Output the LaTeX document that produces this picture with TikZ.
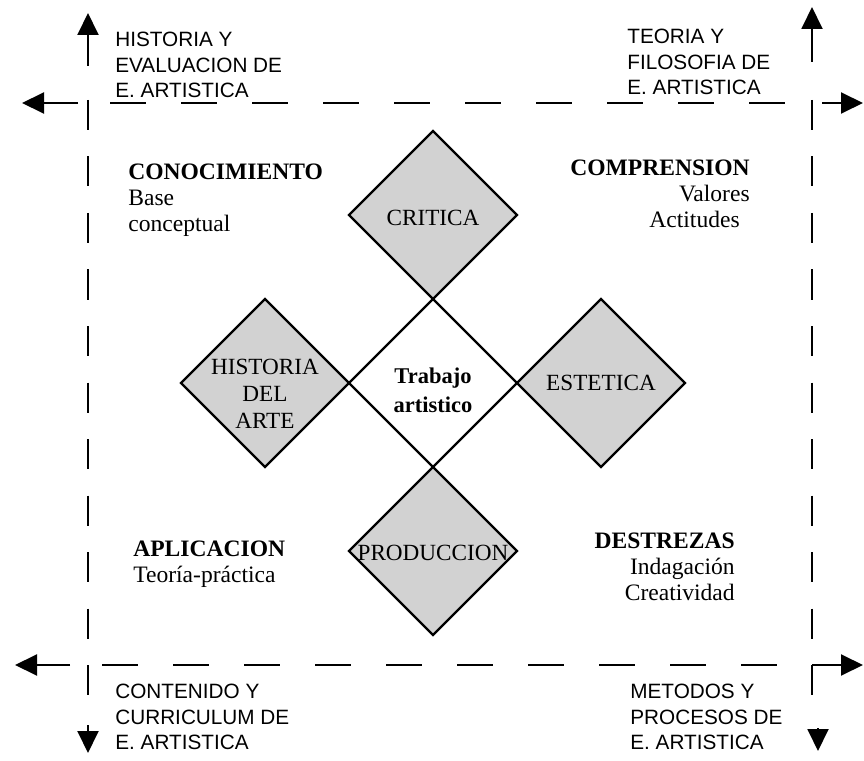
\documentclass[tikz,border=0pt]{standalone}
\usepackage{fontspec}
\setmainfont{Liberation Serif}
\newfontfamily\palo{Liberation Sans}
\usetikzlibrary{shapes.geometric,positioning,arrows.meta}

\tikzset{
  area/.style={diamond, draw, line width=1.3pt, fill=gray!35,
    minimum width=3.36cm, minimum height=3.36cm, inner sep=0pt, outer sep=0pt},
  texto/.style={align=center, inner sep=0pt, font=\fontsize{13.2}{15.4}\selectfont},
  eje/.style={line width=1.1pt, -{Triangle[length=4.4mm,width=4.2mm]}},
  marcoh/.style={line width=1.1pt, dash pattern=on 0.72cm off 0.7cm},
  marcov/.style={line width=1.1pt, dash pattern=on 0.6cm off 0.53cm},
  rotulo/.style={font=\palo\fontsize{11.8}{14.6}\selectfont, align=left, inner sep=0pt},
  ambito/.style={font=\fontsize{13.4}{14.8}\selectfont, inner sep=0pt},
}

\begin{document}
\begin{tikzpicture}
  \useasboundingbox (0,0) rectangle (17.28,15.2);

  % rombos
  \node[area, fill=white] (trabajo) at (8.66,7.54) {};
  \node[area, above=0pt of trabajo] (critica) {};
  \node[area, right=0pt of trabajo] (estetica) {};
  \node[area, below=0pt of trabajo] (produccion) {};
  \node[area, left=0pt of trabajo] (historia) {};

  \node[texto, font=\bfseries\fontsize{12.8}{16.5}\selectfont] (trabajo-t)
    at ([yshift=-0.14cm]trabajo.center) {Trabajo\\artistico};
  \node[texto] (critica-t) at ([yshift=-0.06cm]critica.center) {CRITICA};
  \node[texto] (estetica-t) at (estetica.center) {ESTETICA};
  \node[texto] (produccion-t) at ([yshift=-0.04cm]produccion.center) {PRODUCCION};
  \node[texto] (historia-t) at ([yshift=-0.22cm]historia.center) {HISTORIA\\DEL\\ARTE};

  % marco
  \coordinate (nw) at (1.76,13.14);
  \coordinate (ne) at (16.24,13.14);
  \coordinate (sw) at (1.76,1.9);
  \coordinate (se) at (16.24,1.9);

  \draw[marcoh] ([xshift=0.44cm]nw) -- ([xshift=-0.44cm]ne);
  \draw[marcoh] ([xshift=0.28cm]sw) -- ([xshift=-0.5cm]se);
  \draw[marcov] ([yshift=0.06cm]nw) -- ([yshift=-0.6cm]sw);
  \draw[marcov] ([yshift=0.06cm]ne) -- ([yshift=-0.6cm]se);

  % ejes
  \draw[eje] ([xshift=-0.2cm]nw) -- (0.44,13.14);
  \draw[eje] ([xshift=0.2cm]ne) -- (17.26,13.14);
  \draw[eje] ([xshift=-0.36cm]sw) -- (0.3,1.9);
  \draw[eje] (se) -- (17.26,1.9);
  \draw[eje] (1.76,13.88) -- (1.76,14.94);
  \draw[eje] (16.24,13.96) -- (16.24,15.06);
  \draw[eje] (1.76,0.7) -- (1.76,0.14);
  \draw[eje] (16.36,0.64) -- (16.36,0.18);

  % rotulos
  \node[rotulo, anchor=west] (hist-eval) at (2.3,13.9)
    {HISTORIA Y\\EVALUACION DE\\E. ARTISTICA};
  \node[rotulo, anchor=west] (teoria) at (12.54,13.96)
    {TEORIA Y\\FILOSOFIA DE\\E. ARTISTICA};
  \node[rotulo, anchor=west] (contenido) at (2.3,0.86)
    {CONTENIDO Y\\CURRICULUM DE\\E. ARTISTICA};
  \node[rotulo, anchor=west] (metodos) at (12.6,0.86)
    {METODOS Y\\PROCESOS DE\\E. ARTISTICA};

  \node[ambito, align=left, anchor=north west] (conocimiento) at (2.56,11.92)
    {\textbf{CONOCIMIENTO}\\Base\\conceptual};
  \node[ambito, align=right, anchor=north east] (comprension) at (15.0,12.0)
    {\textbf{COMPRENSION}\\Valores\hspace*{0.2cm}\\Actitudes\hspace*{0.2cm}};
  \node[ambito, align=left, anchor=north west] (aplicacion) at (2.66,4.38)
    {\textbf{APLICACION}\\Teoría-práctica};
  \node[ambito, align=right, anchor=north east] (destrezas) at (14.7,4.54)
    {\textbf{DESTREZAS}\\Indagación\\Creatividad};
\end{tikzpicture}
\end{document}
